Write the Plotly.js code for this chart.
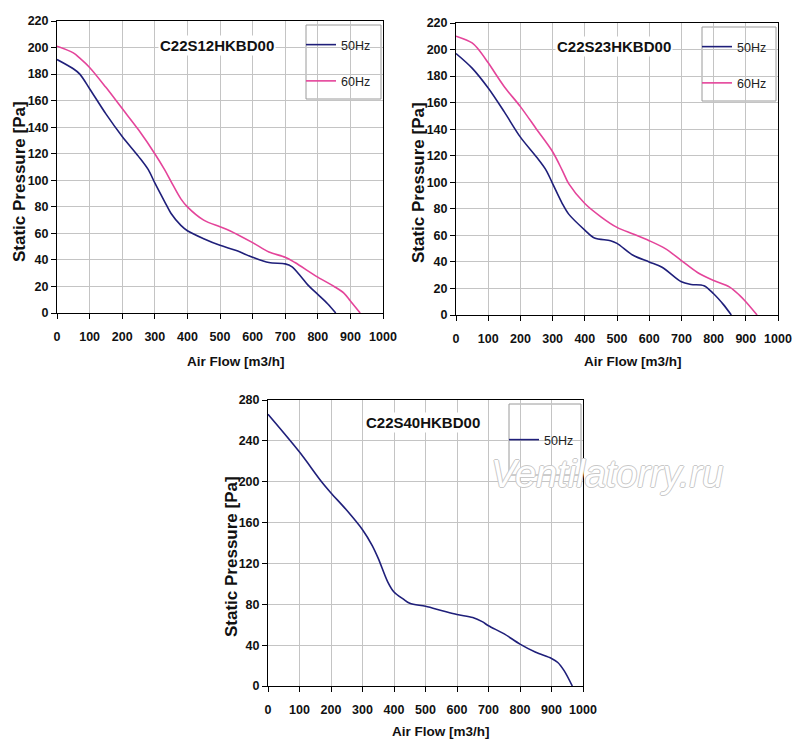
<!DOCTYPE html>
<html>
<head>
<meta charset="utf-8">
<script src="https://cdn.plot.ly/plotly-3.0.1.min.js"></script>
<style>html,body{margin:0;padding:0;background:#fff;}#chart{width:800px;height:750px;}</style>
</head>
<body>
<div id="chart"></div>
<script>
// ---- Data ----
const titles = ["C22S12HKBD00", "C22S23HKBD00", "C22S40HKBD00"];
const seriesNames = ["50Hz", "60Hz"];
const xTicks = [0, 100, 200, 300, 400, 500, 600, 700, 800, 900, 1000];

const flowA50 = [0, 50, 70, 100, 150, 200, 250, 280, 300, 330, 350, 380, 400, 450, 500, 550, 600, 650, 700, 720, 750, 770, 800, 830, 855];
const presA50 = [191, 184, 180, 169, 150, 133, 118, 108, 98, 84, 75, 66, 62, 56, 51, 47, 42, 38, 37, 35, 27, 21, 14, 7, 0];
const flowA60 = [0, 50, 70, 100, 150, 200, 250, 300, 330, 350, 380, 400, 450, 500, 530, 600, 650, 700, 730, 800, 850, 880, 900, 930];
const presA60 = [201, 196, 192, 185, 170, 154, 138, 120, 108, 99, 86, 80, 70, 65, 62, 53, 46, 42, 38, 27, 20, 15, 9, 0];

const flowB50 = [0, 50, 100, 150, 200, 250, 280, 300, 330, 350, 400, 430, 480, 500, 550, 600, 640, 700, 730, 770, 800, 830, 855];
const presB50 = [197, 186, 171, 153, 134, 119, 109, 99, 84, 76, 64, 58, 56, 54, 45, 40, 36, 25, 23, 22, 16, 8, 0];
const flowB60 = [0, 50, 70, 100, 150, 200, 250, 300, 330, 350, 400, 450, 500, 550, 600, 650, 700, 750, 800, 850, 880, 900, 935];
const presB60 = [210, 205, 200, 190, 172, 157, 140, 123, 109, 99, 84, 74, 66, 61, 56, 50, 41, 32, 26, 21, 15, 10, 0];

const flowC50 = [0, 100, 170, 200, 250, 300, 330, 350, 380, 400, 430, 450, 500, 550, 600, 650, 680, 700, 750, 800, 850, 900, 920, 940, 966];
const presC50 = [266, 229, 200, 189, 172, 153, 138, 125, 102, 92, 85, 81, 78, 74, 70, 67, 63, 59, 51, 41, 33, 27, 23, 15, 0];

// ---- Styles ----
const c50 = "#1f1f7a";
const c60 = "#e4449a";
const sans = "Liberation Sans, Arial, sans-serif";

function tr(x, y, name, color, xa, ya, lg, grp) {
  return {x: x, y: y, name: name, type: "scatter", mode: "lines",
    line: {color: color, width: 1.6, shape: "spline", smoothing: 0.9},
    xaxis: xa, yaxis: ya, legend: lg, legendgroup: grp, hoverinfo: "x+y+name"};
}

const data = [
  tr(flowA50, presA50, seriesNames[0], c50, "x", "y", "legend", "a1"),
  tr(flowA60, presA60, seriesNames[1], c60, "x", "y", "legend", "a2"),
  tr(flowB50, presB50, seriesNames[0], c50, "x2", "y2", "legend2", "b1"),
  tr(flowB60, presB60, seriesNames[1], c60, "x2", "y2", "legend2", "b2"),
  tr(flowC50, presC50, seriesNames[0], c50, "x3", "y3", "legend3", "c1")
];

const W = 800, H = 750;
const px = v => v / W;
const py = v => 1 - v / H;

const tickFont = {family: sans, size: 12.5, color: "#111", weight: "bold"};

function xa(l, r, anchor) {
  return {domain: [px(l), px(r)], anchor: anchor, range: [0, 1000], tickvals: xTicks,
    ticks: "outside", ticklen: 5, tickcolor: "#000", showline: true, linecolor: "#000", linewidth: 1, mirror: true,
    showgrid: true, gridcolor: "#c4c4c4", gridwidth: 1, zeroline: false, ticklabelstandoff: 7,
    tickfont: tickFont, fixedrange: true};
}
function ya(t, b, anchor, max, dtick) {
  return {domain: [py(b), py(t)], anchor: anchor, range: [0, max], dtick: dtick,
    ticks: "outside", ticklen: 5, tickcolor: "#000", showline: true, linecolor: "#000", linewidth: 1, mirror: true,
    showgrid: true, gridcolor: "#c4c4c4", gridwidth: 1, zeroline: false,
    tickfont: tickFont, fixedrange: true};
}

function legendAt(left, top) {
  return {x: px(left), y: py(top), xanchor: "left", yanchor: "top", xref: "paper", yref: "paper",
    bgcolor: "rgba(0,0,0,0)", borderwidth: 0, itemwidth: 30, tracegroupgap: 17, traceorder: "grouped",
    font: {family: sans, size: 12.5, color: "#222"}};
}

function box(l, t, r, b) {
  return {type: "rect", xref: "paper", yref: "paper", x0: px(l), x1: px(r), y0: py(b), y1: py(t),
    line: {color: "#9a9a9a", width: 1}, fillcolor: "#fff", layer: "between"};
}

function ann(text, x, y, font, extra) {
  return Object.assign({text: text, x: px(x), y: py(y), xref: "paper", yref: "paper", showarrow: false,
    xanchor: "center", yanchor: "middle", font: font}, extra || {});
}
const titleFont = {family: sans, size: 15, color: "#111", weight: "bold"};
const xTitleFont = {family: sans, size: 13.5, color: "#111", weight: "bold"};
const yTitleFont = {family: sans, size: 17, color: "#111", weight: "bold"};

const layout = {
  width: W, height: H, margin: {l: 0, r: 0, t: 0, b: 0},
  paper_bgcolor: "#fff", plot_bgcolor: "#fff", showlegend: true,
  xaxis: xa(57, 383, "y"), yaxis: ya(21, 313, "x", 220, 20),
  xaxis2: xa(456, 778, "y2"), yaxis2: ya(23, 315, "x2", 220, 20),
  xaxis3: xa(268, 583, "y3"), yaxis3: ya(400, 686, "x3", 280, 40),
  legend: legendAt(301, 30),
  legend2: legendAt(697, 32),
  legend3: legendAt(504, 425),
  shapes: [box(306, 25, 381, 99), box(702, 27, 776, 101), box(509, 404, 581, 475)],
  annotations: [
    ann(titles[0], 217, 45, titleFont, {bgcolor: "#fff"}),
    ann(titles[1], 614, 47, titleFont, {bgcolor: "#fff"}),
    ann(titles[2], 423, 423, titleFont, {bgcolor: "#fff"}),
    ann("Air Flow [m3/h]", 236, 361, xTitleFont),
    ann("Air Flow [m3/h]", 633, 361, xTitleFont),
    ann("Air Flow [m3/h]", 441, 731, xTitleFont),
    ann("Static Pressure [Pa]", 19, 182, yTitleFont, {textangle: -90}),
    ann("Static Pressure [Pa]", 418, 183, yTitleFont, {textangle: -90}),
    ann("Static Pressure [Pa]", 231, 557, yTitleFont, {textangle: -90}),
    ann("Ventilatorry.ru", 607, 474, {family: sans, size: 38, color: "#ffffff", style: "italic",
       shadow: "1px 0 0 #c8c8c8, -1px 0 0 #c8c8c8, 0 1px 0 #c8c8c8, 0 -1px 0 #c8c8c8"})
  ]
};

Plotly.newPlot("chart", data, layout, {displayModeBar: false});
</script>
</body>
</html>
